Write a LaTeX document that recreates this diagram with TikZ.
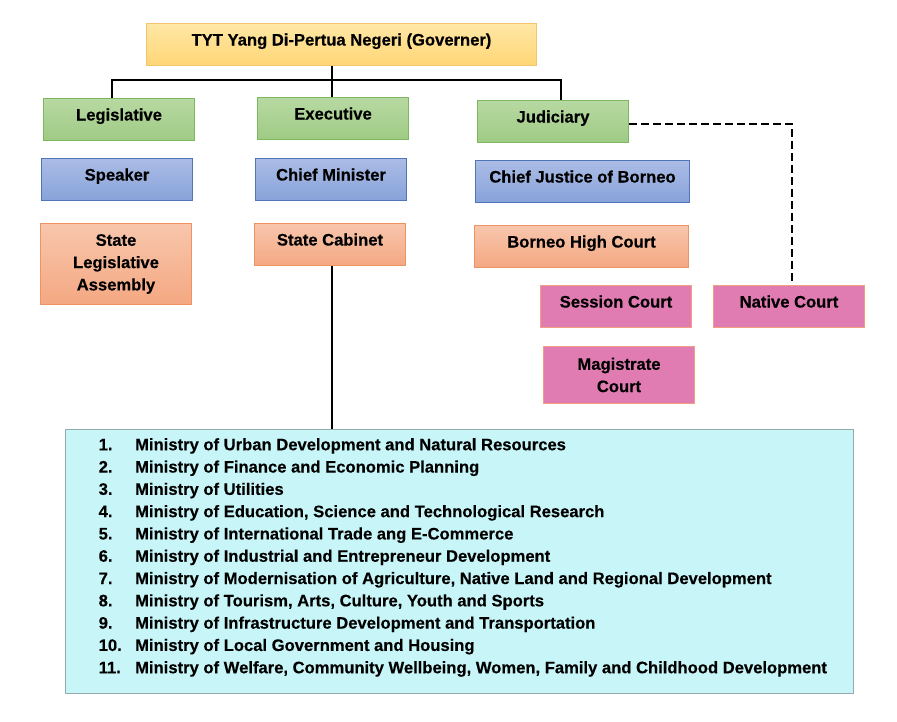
\documentclass[tikz,border=0pt]{standalone}
\usepackage{fontspec}
\setmainfont{Liberation Sans}[BoldFeatures={FakeBold=0.35}]
\definecolor{govT}{HTML}{FFE7A6}
\definecolor{govB}{HTML}{FFD676}
\definecolor{govD}{HTML}{F2C46E}
\definecolor{grnT}{HTML}{B7D9A2}
\definecolor{grnB}{HTML}{9FCB84}
\definecolor{grnD}{HTML}{7DB860}
\definecolor{bluT}{HTML}{ABBCE6}
\definecolor{bluB}{HTML}{87A3D9}
\definecolor{bluD}{HTML}{4F75B8}
\definecolor{orgT}{HTML}{F8C6AC}
\definecolor{orgB}{HTML}{F4A882}
\definecolor{orgD}{HTML}{EE9364}
\definecolor{pnkF}{HTML}{E07CB2}
\definecolor{pnkD}{HTML}{F0A080}
\definecolor{minF}{HTML}{C8F6F8}
\definecolor{minD}{HTML}{93AAAE}
\begin{document}
\begin{tikzpicture}[x=1pt,y=-1pt,
  font=\fontsize{16.6}{22.3}\selectfont\bfseries,
  basebox/.style={line width=1pt, inner sep=0pt, anchor=north west, align=center, minimum width=151pt, minimum height=42pt},
  oneline/.style={text height=12pt, text depth=10pt},
  govbox/.style={basebox, oneline, top color=govT, bottom color=govB, draw=govD},
  grnbox/.style={basebox, oneline, top color=grnT, bottom color=grnB, draw=grnD},
  blubox/.style={basebox, oneline, top color=bluT, bottom color=bluB, draw=bluD},
  orgbox/.style={basebox, top color=orgT, bottom color=orgB, draw=orgD},
  pnkbox/.style={basebox, fill=pnkF, draw=pnkD},
  conn/.style={line width=2pt, black},
  dashconn/.style={line width=2pt, black, dash pattern=on 7.5pt off 4.5pt}
]
\useasboundingbox[fill=white] (0,0) rectangle (897,721);

\node[govbox, minimum width=390pt] (gov) at (146,23) {TYT Yang Di-Pertua Negeri (Governer)};

\node[grnbox] (leg) at (43,98) {Legislative};
\node[grnbox] (exe) at (257,97) {Executive};
\node[grnbox] (jud) at (477,100) {Judiciary};

\node[blubox] (spk) at (41,158) {Speaker};
\node[blubox] (cm) at (255,158) {Chief Minister};
\node[blubox, minimum width=214pt] (cj) at (475,160) {Chief Justice of Borneo};

\node[orgbox, minimum height=81pt] (sla) at (40,223) {State\\Legislative\\Assembly};
\node[orgbox, oneline] (cab) at (254,223) {State Cabinet};
\node[orgbox, oneline, minimum width=214pt] (bhc) at (474,225) {Borneo High Court};

\node[pnkbox, oneline] (ses) at (540,285) {Session Court};
\node[pnkbox, oneline] (nat) at (713,285) {Native Court};
\node[pnkbox, minimum height=57pt] (mag) at (543,346) {Magistrate\\Court};

\node[anchor=north west, line width=1pt, fill=minF, draw=minD, minimum width=788pt, minimum height=264pt, inner sep=0pt] (mins) at (65,429) {};
\node[anchor=north west, inner sep=0pt, align=left] (mlist) at (98.5,438) {%
\makebox[36.5pt][l]{1.}Ministry of Urban Development and Natural Resources\\
\makebox[36.5pt][l]{2.}Ministry of Finance and Economic Planning\\
\makebox[36.5pt][l]{3.}Ministry of Utilities\\
\makebox[36.5pt][l]{4.}Ministry of Education, Science and Technological Research\\
\makebox[36.5pt][l]{5.}Ministry of International Trade ang E-Commerce\\
\makebox[36.5pt][l]{6.}Ministry of Industrial and Entrepreneur Development\\
\makebox[36.5pt][l]{7.}Ministry of Modernisation of Agriculture, Native Land and Regional Development\\
\makebox[36.5pt][l]{8.}Ministry of Tourism, Arts, Culture, Youth and Sports\\
\makebox[36.5pt][l]{9.}Ministry of Infrastructure Development and Transportation\\
\makebox[36.5pt][l]{10.}Ministry of Local Government and Housing\\
\makebox[36.5pt][l]{11.}Ministry of Welfare, Community Wellbeing, Women, Family and Childhood Development};

\coordinate (bus) at (331,80);
\draw[conn] ([xshift=-1.5pt]exe.north |- gov.south) -- ([xshift=-1.5pt]exe.north);
\draw[conn] ([xshift=-7pt]leg.north) |- (bus) -| ([xshift=8pt]jud.north);
\draw[dashconn] ([yshift=-2pt]jud.east) -| ([xshift=2.5pt]nat.north);
\draw[conn] ([xshift=1.5pt]cab.south) -- ([xshift=1.5pt]cab.south |- mins.north);
\end{tikzpicture}
\end{document}
